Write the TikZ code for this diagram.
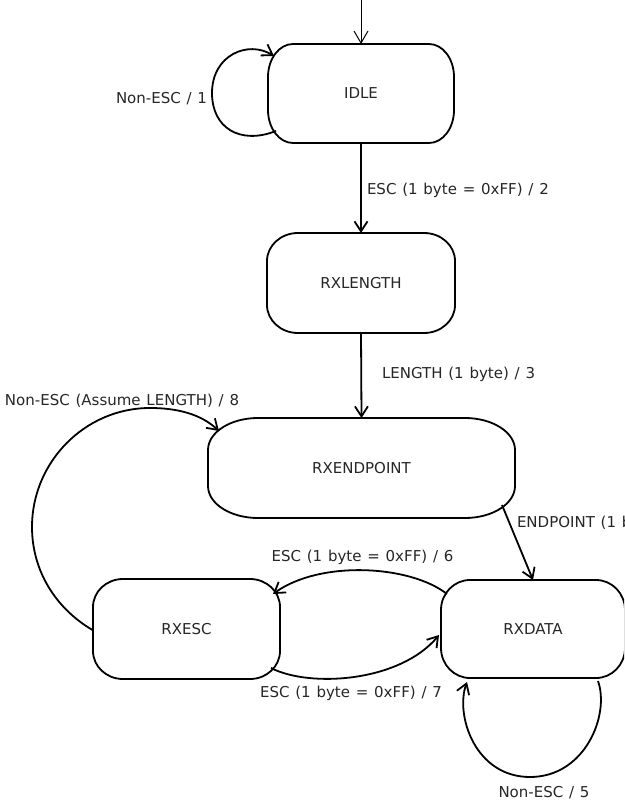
\documentclass[tikz,border=0pt]{standalone}
\usepackage{fontspec}
\setmainfont{DejaVu Sans}
\usetikzlibrary{arrows.meta,calc}
\newcommand\labelfont{\fontsize{15}{17}\selectfont\spaceskip=5.8pt plus 1pt\relax}
\tikzset{
  stbox/.style={rectangle, inner sep=0pt, outer sep=0pt, font=\labelfont, text=black!85},
  lbl/.style={inner sep=0pt, outer sep=0pt, font=\labelfont, text=black!85},
  conn/.style={line width=1.8pt, -{Straight Barb[length=10pt,width=13pt]}},
  thinconn/.style={line width=1pt, -{Straight Barb[length=12pt,width=14pt]}},
  outl/.style={line width=1.8pt, line join=round},
}
\newcommand\stateoutline[3]{%
  \draw[outl] ([xshift=#2]#1.north west) -- ([xshift=-#2]#1.north east)
    arc[start angle=90,end angle=0,x radius=#2,y radius=#3]
    -- ([yshift=#3]#1.south east)
    arc[start angle=0,end angle=-90,x radius=#2,y radius=#3]
    -- ([xshift=#2]#1.south west)
    arc[start angle=270,end angle=180,x radius=#2,y radius=#3]
    -- ([yshift=-#3]#1.north west)
    arc[start angle=180,end angle=90,x radius=#2,y radius=#3] -- cycle;}
\begin{document}
\begin{tikzpicture}[x=1pt,y=-1pt]
\useasboundingbox (0,0) rectangle (624,802);
\clip (0,0) rectangle (624,802);
% states
\node[stbox,minimum width=186pt,minimum height=99pt] (idle) at (361,93.5) {IDLE};
\node[stbox,minimum width=188pt,minimum height=100pt] (rxlength) at (361,283) {RXLENGTH};
\node[stbox,minimum width=307pt,minimum height=100pt] (rxendpoint) at (361.5,468) {RXENDPOINT};
\node[stbox,minimum width=187pt,minimum height=100pt] (rxesc) at (186.5,629) {RXESC};
\node[stbox,minimum width=184pt,minimum height=98pt] (rxdata) at (533,629) {RXDATA};
\stateoutline{idle}{25pt}{33pt}
\stateoutline{rxlength}{31pt}{28pt}
\stateoutline{rxendpoint}{50pt}{32pt}
\stateoutline{rxesc}{30pt}{28pt}
\stateoutline{rxdata}{29pt}{30pt}
% connectors
\coordinate (entry) at (361,0);
\draw[thinconn] (entry) -- (idle.north);
\draw[conn] (idle.south) -- (rxlength.north);
\draw[conn] (rxlength.south) -- (rxendpoint.north);
\draw[conn] ([shift={(140.5,37)}]rxendpoint.center) -- (rxdata.north);
\draw[conn] ([shift={(-86,-35)}]rxdata.center) .. controls (410,565) and (320,560) .. ([shift={(86.5,-35)}]rxesc.center);
\draw[conn] ([shift={(84.5,39)}]rxesc.center) .. controls (310,688) and (400,682) .. ([shift={(-94,6)}]rxdata.center);
\draw[conn] ([shift={(-85,37.5)}]idle.center) .. controls (240,145) and (212,128) .. (212,93)
  .. controls (212,55) and (248,40) .. ([shift={(-87,-37.5)}]idle.center);
\draw[conn] ([shift={(65,52)}]rxdata.center) .. controls (610,715) and (585,777) .. (530,777)
  .. controls (475,777) and (455,715) .. ([shift={(-66,53)}]rxdata.center);
\draw[conn] ([shift={(-94,1)}]rxesc.center) .. controls (55,608) and (32,570) .. (32,527)
  .. controls (32,462) and (85,408) .. (150,408)
  .. controls (185,408) and (205,418) .. ([shift={(-142.5,-37)}]rxendpoint.center);
% labels
\node[lbl,anchor=base east] (l1) at (207,104) {Non-ESC / 1};
\node[lbl,anchor=base west] (l2) at (367,195) {ESC (1 byte = 0xFF) / 2};
\node[lbl,anchor=base west] (l3) at (382,378) {LENGTH (1 byte) / 3};
\node[lbl,anchor=base west] (l4) at (517,527) {ENDPOINT (1 byte) / 4};
\node[lbl,anchor=base] (l6) at (362.5,561) {ESC (1 byte = 0xFF) / 6};
\node[lbl,anchor=base] (l7) at (351,697) {ESC (1 byte = 0xFF) / 7};
\node[lbl,anchor=base] (l5) at (544,797) {Non-ESC / 5};
\node[lbl,anchor=base west] (l8) at (5,405) {Non-ESC (Assume LENGTH) / 8};
\end{tikzpicture}
\end{document}
